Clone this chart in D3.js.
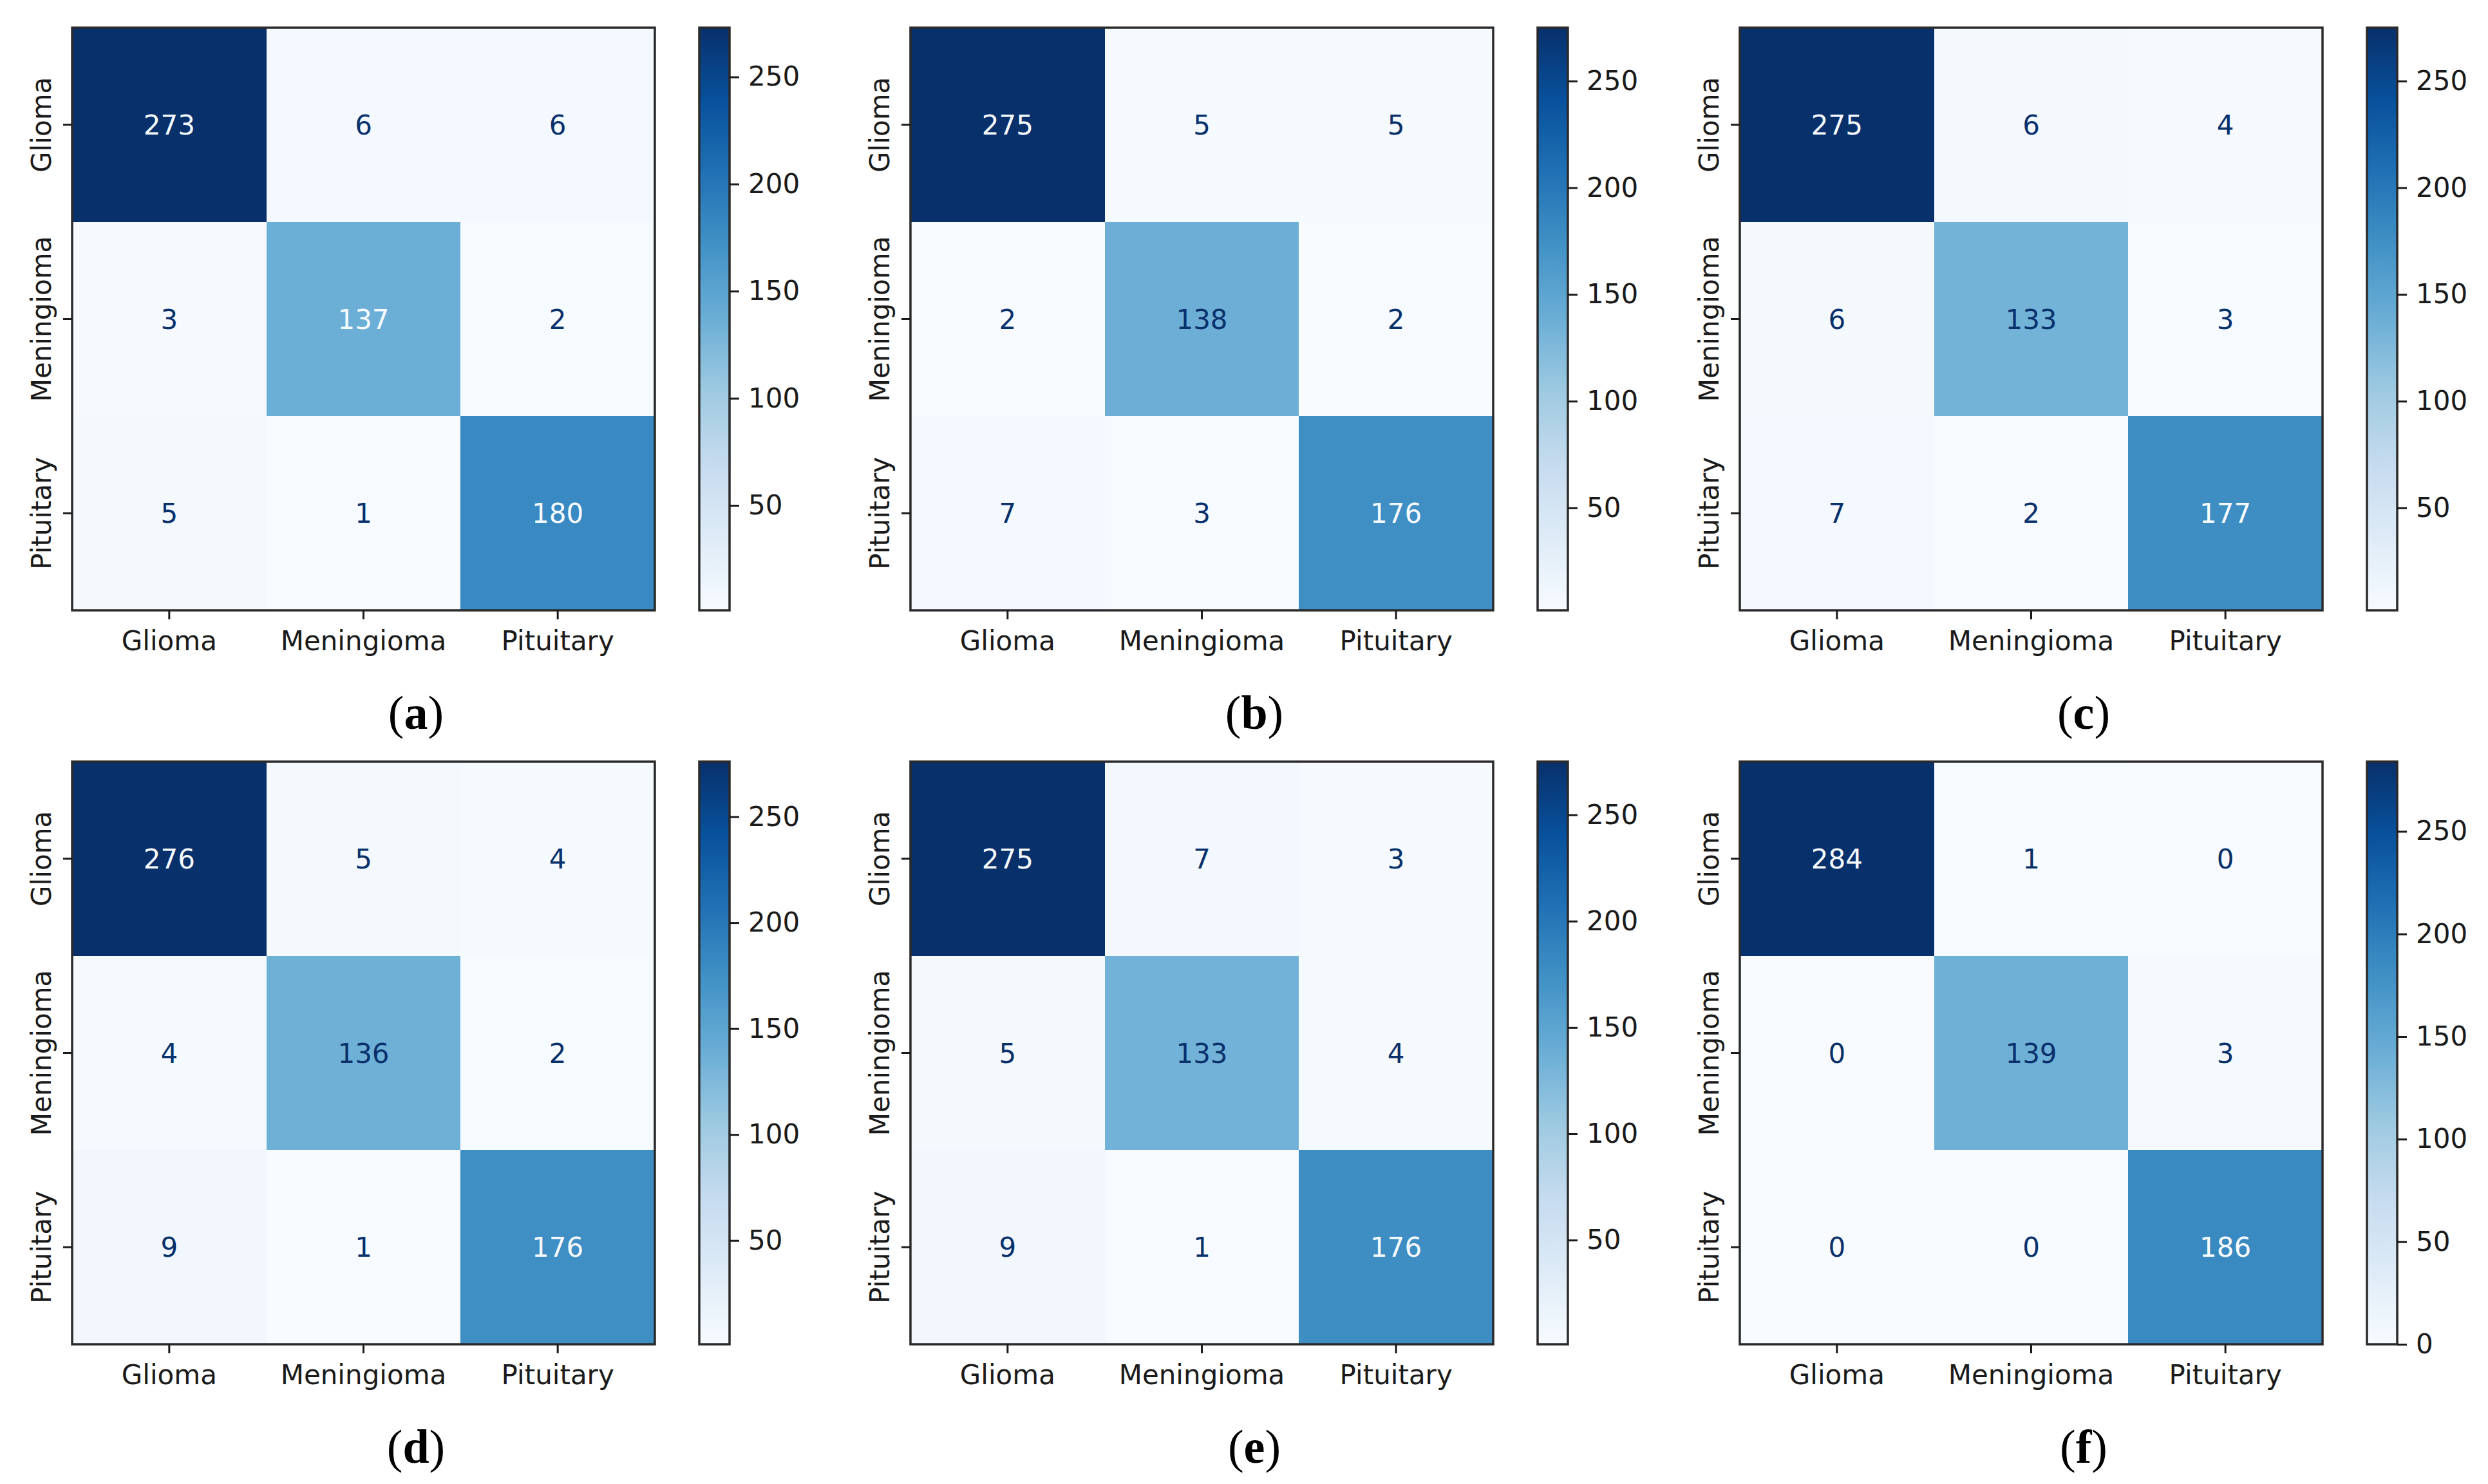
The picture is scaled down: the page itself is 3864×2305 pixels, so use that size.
<!DOCTYPE html>
<html>
<head>
<meta charset="utf-8">
<script src="https://cdn.jsdelivr.net/npm/d3@7"></script>
<style>
  html, body { margin: 0; padding: 0; background: #fff; }
  svg { display: block; }
</style>
</head>
<body>
<div id="chart"></div>
<script>
// class names, same for rows (true) and columns (predicted)
const classes = ["Glioma", "Meningioma", "Pituitary"];
const panelLetters = ["a", "b", "c", "d", "e", "f"];

// confusion matrices
const cmA = [[273, 6, 6], [3, 137, 2], [5, 1, 180]];
const cmB = [[275, 5, 5], [2, 138, 2], [7, 3, 176]];
const cmC = [[275, 6, 4], [6, 133, 3], [7, 2, 177]];
const cmD = [[276, 5, 4], [4, 136, 2], [9, 1, 176]];
const cmE = [[275, 7, 3], [5, 133, 4], [9, 1, 176]];
const cmF = [[284, 1, 0], [0, 139, 3], [0, 0, 186]];
const matrices = [cmA, cmB, cmC, cmD, cmE, cmF];

const W = 3864, H = 2305;
const colOffsets = [0, 1302, 2590];
const rowOffsets = [0, 1140];

// layout of a single panel (relative to its offset)
const hm = { x: 112, y: 43, size: 905 };
const cb = { x: 1086, w: 47 };
const fontSize = 42;
const tickLen = 14;
const ink = "#1a1a1a";

const svg = d3.select("#chart").append("svg")
    .attr("width", W)
    .attr("height", H);

const defs = svg.append("defs");

// matplotlib "Blues" = ColorBrewer 9-class Blues, linearly interpolated
const blues = d3.schemeBlues[9];

function drawPanel(data, idx) {
    const ox = colOffsets[idx % 3];
    const oy = rowOffsets[Math.floor(idx / 3)];
    const flat = data.flat();
    const vmin = d3.min(flat), vmax = d3.max(flat);

    const color = d3.scaleLinear()
        .domain(d3.range(9).map(i => vmin + (vmax - vmin) * i / 8))
        .range(blues)
        .interpolate(d3.interpolateRgb);

    const g = svg.append("g").attr("transform", `translate(${ox},${oy})`);

    const x = d3.scaleBand().domain(classes).range([hm.x, hm.x + hm.size]);
    const y = d3.scaleBand().domain(classes).range([hm.y, hm.y + hm.size]);

    const cells = [];
    data.forEach((row, i) => row.forEach((v, j) => cells.push({ r: classes[i], c: classes[j], v })));

    g.selectAll("rect.cell")
        .data(cells)
        .enter().append("rect")
        .attr("class", "cell")
        .attr("x", d => x(d.c))
        .attr("y", d => y(d.r))
        .attr("width", x.bandwidth())
        .attr("height", y.bandwidth())
        .attr("fill", d => color(d.v))
        .attr("shape-rendering", "crispEdges");

    // text colour flips like sklearn's ConfusionMatrixDisplay
    const thresh = (vmax + vmin) / 2;
    g.selectAll("text.val")
        .data(cells)
        .enter().append("text")
        .attr("class", "val")
        .attr("x", d => x(d.c) + x.bandwidth() / 2)
        .attr("y", d => y(d.r) + y.bandwidth() / 2 + fontSize * 0.365)
        .attr("text-anchor", "middle")
        .attr("font-family", "DejaVu Sans")
        .attr("font-size", fontSize)
        .attr("fill", d => d.v < thresh ? blues[8] : blues[0])
        .text(d => d.v);

    // frame
    g.append("rect")
        .attr("x", hm.x).attr("y", hm.y)
        .attr("width", hm.size).attr("height", hm.size)
        .attr("fill", "none")
        .attr("stroke", "#2a2a2a")
        .attr("stroke-width", 3.5);

    // x axis
    const xAxis = g.append("g")
        .attr("transform", `translate(0,${hm.y + hm.size})`)
        .call(d3.axisBottom(x).tickSize(tickLen).tickPadding(18));
    xAxis.select(".domain").remove();

    // y axis
    const yAxis = g.append("g")
        .attr("transform", `translate(${hm.x},0)`)
        .call(d3.axisLeft(y).tickSize(tickLen).tickPadding(0));
    yAxis.select(".domain").remove();
    yAxis.selectAll(".tick text")
        .attr("x", null).attr("dy", null)
        .attr("transform", `translate(${-33},0) rotate(-90)`)
        .attr("text-anchor", "middle");

    [xAxis, yAxis].forEach(a => {
        a.selectAll(".tick line").attr("stroke", ink).attr("stroke-width", 3);
        a.selectAll(".tick text")
            .attr("font-family", "DejaVu Sans")
            .attr("font-size", fontSize)
            .attr("fill", ink);
    });

    // colour bar
    const gradId = "grad" + idx;
    const grad = defs.append("linearGradient")
        .attr("id", gradId)
        .attr("x1", 0).attr("y1", 1).attr("x2", 0).attr("y2", 0);
    grad.selectAll("stop")
        .data(d3.range(0, 1.0001, 0.125))
        .enter().append("stop")
        .attr("offset", d => d)
        .attr("stop-color", d => color(vmin + d * (vmax - vmin)));

    g.append("rect")
        .attr("x", cb.x).attr("y", hm.y)
        .attr("width", cb.w).attr("height", hm.size)
        .attr("fill", `url(#${gradId})`)
        .attr("stroke", "#2a2a2a")
        .attr("stroke-width", 3.5);

    const cy = d3.scaleLinear().domain([vmin, vmax]).range([hm.y + hm.size, hm.y]);
    const cAxis = g.append("g")
        .attr("transform", `translate(${cb.x + cb.w},0)`)
        .call(d3.axisRight(cy)
            .tickValues(d3.range(0, vmax + 1, 50).filter(t => t >= vmin))
            .tickSize(15).tickPadding(14));
    cAxis.select(".domain").remove();
    cAxis.selectAll(".tick line").attr("stroke", ink).attr("stroke-width", 3);
    cAxis.selectAll(".tick text")
        .attr("font-family", "DejaVu Sans")
        .attr("font-size", fontSize)
        .attr("fill", ink);

    // caption
    const cap = g.append("text")
        .attr("x", 646)
        .attr("y", 1132)
        .attr("text-anchor", "middle")
        .attr("font-family", "Liberation Serif")
        .attr("font-size", 74)
        .attr("fill", "#000");
    cap.append("tspan").text("(");
    cap.append("tspan").attr("font-weight", "bold").text(panelLetters[idx]);
    cap.append("tspan").text(")");
}

matrices.forEach(drawPanel);
</script>
</body>
</html>
